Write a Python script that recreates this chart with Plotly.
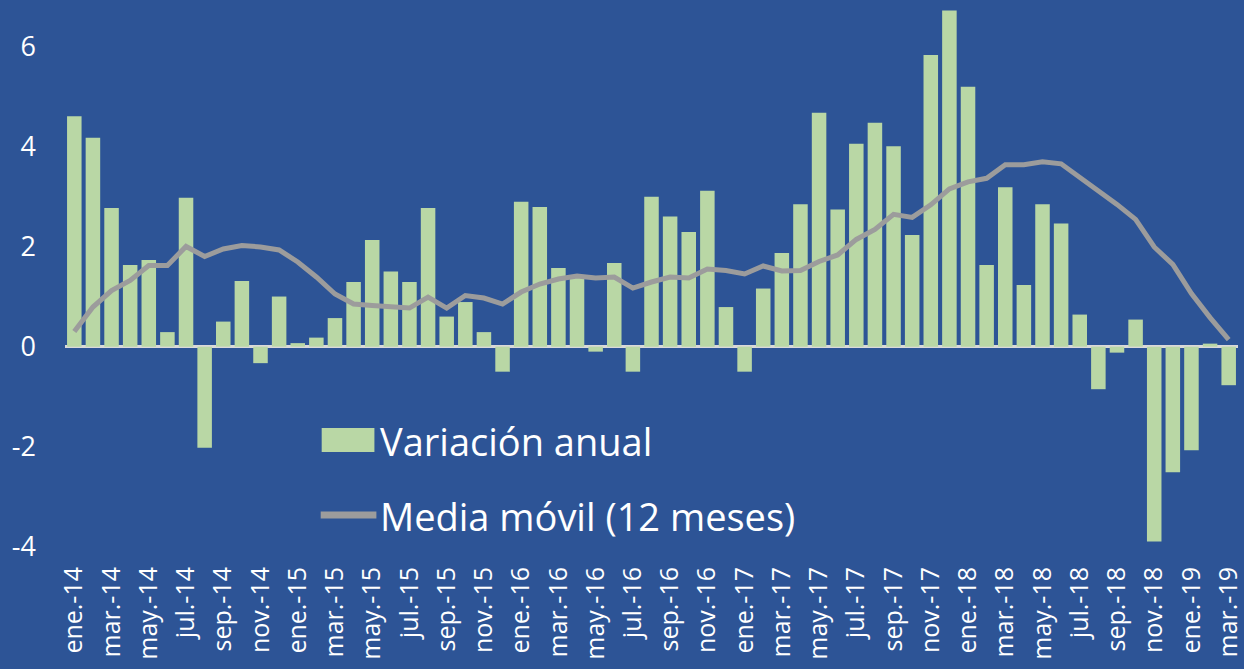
import plotly.graph_objects as go

months = ["ene.", "feb.", "mar.", "abr.", "may.", "jun.",
          "jul.", "ago.", "sep.", "oct.", "nov.", "dic."]
years = ["14", "15", "16", "17", "18", "19"]
periods = [m + "-" + y for y in years for m in months][:63]

# variacion anual (%)
variacion = [4.60, 4.17, 2.77, 1.63, 1.73, 0.29, 2.97, -2.02, 0.50, 1.31, -0.33, 1.00,
             0.07, 0.18, 0.57, 1.29, 2.13, 1.50, 1.29, 2.77, 0.60, 0.89, 0.29, -0.50,
             2.89, 2.79, 1.57, 1.40, -0.10, 1.67, -0.50, 2.99, 2.60, 2.29, 3.11, 0.79,
             -0.50, 1.16, 1.87, 2.84, 4.67, 2.74, 4.05, 4.47, 4.00, 2.23, 5.82, 6.71,
             5.19, 1.63, 3.18, 1.23, 2.84, 2.46, 0.64, -0.85, -0.12, 0.54, -3.89, -2.51,
             -2.07, 0.06, -0.77]

# media movil 12 meses
media = [0.30, 0.79, 1.12, 1.32, 1.62, 1.62, 2.00, 1.80, 1.95, 2.02, 1.99, 1.93,
         1.69, 1.39, 1.05, 0.85, 0.82, 0.80, 0.77, 0.99, 0.77, 1.02, 0.97, 0.85,
         1.09, 1.25, 1.35, 1.41, 1.37, 1.39, 1.17, 1.29, 1.39, 1.37, 1.55, 1.52,
         1.45, 1.61, 1.51, 1.52, 1.70, 1.83, 2.14, 2.34, 2.64, 2.58, 2.83, 3.15,
         3.29, 3.36, 3.63, 3.63, 3.69, 3.65, 3.38, 3.13, 2.84, 2.54, 1.99, 1.64,
         1.06, 0.58, 0.14]

tick_labels = periods[::2]
y_ticks = [-4, -2, 0, 2, 4, 6]
y_tick_text = ["-4", "-2", "0", "2", "4", "6"]

bg = "#2D5496"
green = "#B9D7A5"
grey = "#9C9C9C"
font = "Open Sans"

fig = go.Figure()
fig.add_trace(go.Bar(x=periods, y=variacion, marker_color=green,
                     marker_line_width=0, name="Variación anual"))
fig.add_trace(go.Scatter(x=periods, y=media, mode="lines",
                         line=dict(color=grey, width=5), name="Media móvil (12 meses)"))

fig.update_layout(
    width=1244, height=669,
    margin=dict(l=65, r=0, t=0, b=122),
    paper_bgcolor=bg, plot_bgcolor=bg,
    showlegend=False, bargap=0.22,
    font=dict(family=font, color="white"),
)
fig.update_xaxes(
    type="category", range=[-0.5, 62.5],
    tickmode="array", tickvals=tick_labels, ticktext=tick_labels,
    tickangle=-90, tickfont=dict(size=25, color="white"),
    showgrid=False, showline=False, ticks="", ticklabelstandoff=14,
)
fig.update_yaxes(
    range=[-4, 6.92], tickmode="array", tickvals=y_ticks, ticktext=y_tick_text,
    tickfont=dict(size=27, color="white"),
    showgrid=False, showline=False, ticks="", ticklabelstandoff=28,
    zeroline=True, zerolinecolor="#D9D9D9", zerolinewidth=2.5,
    layer="above traces",
)

# hand-made legend (big symbols like the original)
def px_x(p):
    return (p - 65) / 1179

def px_y(p):
    return (547 - p) / 547

fig.add_shape(type="rect", xref="paper", yref="paper",
              x0=px_x(323), x1=px_x(376), y0=px_y(452), y1=px_y(428),
              fillcolor=green, line_width=0)
fig.add_shape(type="line", xref="paper", yref="paper",
              x0=px_x(322), x1=px_x(378), y0=px_y(515), y1=px_y(515),
              line=dict(color=grey, width=7))
fig.add_annotation(text="Variación anual", xref="paper", yref="paper",
                   x=px_x(380), y=px_y(441), xanchor="left", yanchor="middle",
                   showarrow=False, font=dict(size=38, color="white", family=font))
fig.add_annotation(text="Media móvil (12 meses)", xref="paper", yref="paper",
                   x=px_x(380), y=px_y(516), xanchor="left", yanchor="middle",
                   showarrow=False, font=dict(size=38, color="white", family=font))

fig.write_html("out.html", config={"displayModeBar": False},
               post_script="document.body.style.margin='0px';")
